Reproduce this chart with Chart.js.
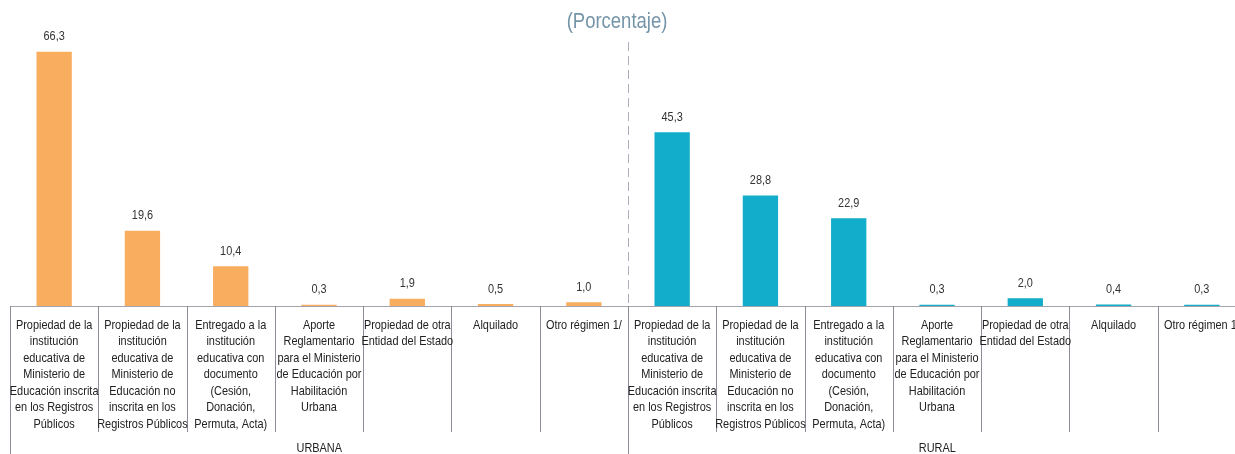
<!DOCTYPE html>
<html>
<head>
<meta charset="utf-8">
<script src="https://cdn.jsdelivr.net/npm/chart.js@4.4.1/dist/chart.umd.min.js"></script>
<style>
  html, body { margin: 0; padding: 0; background: #fff; overflow: hidden; }
  #wrap { position: relative; width: 1250px; height: 454px; }
</style>
</head>
<body>
<div id="wrap"><canvas id="chart"></canvas></div>
<script>
// Chart data
const categories = [
    ['Propiedad de la', 'institución', 'educativa de', 'Ministerio de', 'Educación inscrita', 'en los Registros', 'Públicos'],
    ['Propiedad de la', 'institución', 'educativa de', 'Ministerio de', 'Educación no', 'inscrita en los', 'Registros Públicos'],
    ['Entregado a la', 'institución', 'educativa con', 'documento', '(Cesión,', 'Donación,', 'Permuta, Acta)'],
    ['Aporte', 'Reglamentario', 'para el Ministerio', 'de Educación por', 'Habilitación', 'Urbana'],
    ['Propiedad de otra', 'Entidad del Estado'],
    ['Alquilado'],
    ['Otro régimen 1/']
];
const groups = ['URBANA', 'RURAL'];
const urbana = [66.3, 19.6, 10.4, 0.3, 1.9, 0.5, 1.0];
const rural = [45.3, 28.8, 22.9, 0.3, 2.0, 0.4, 0.3];

const ORANGE = '#f9ad5f';
const TEAL = '#12adca';
const FONT = "'Liberation Sans', Arial, sans-serif";
const NARROW = 0.84; // horizontal squeeze to mimic a narrow face

const labels = categories.concat(categories);
const values = urbana.concat(rural);
const colors = urbana.map(() => ORANGE).concat(rural.map(() => TEAL));

function narrowText(c, text, x, y, squeeze) {
    c.save();
    c.translate(x, y);
    c.scale(squeeze, 1);
    c.fillText(text, 0, 0);
    c.restore();
}

// Value labels above bars
const valueLabels = {
    id: 'valueLabels',
    afterDatasetsDraw(chart) {
        const c = chart.ctx;
        const meta = chart.getDatasetMeta(0);
        c.save();
        c.font = '13px ' + FONT;
        c.fillStyle = '#333';
        c.textAlign = 'center';
        c.textBaseline = 'middle';
        meta.data.forEach((bar, i) => {
            narrowText(c, values[i].toFixed(1).replace('.', ','), bar.x, bar.y - 15, NARROW);
        });
        c.restore();
    }
};

// Table-like axis: labels, separators, dashed divider, group names, subtitle
const axisTable = {
    id: 'axisTable',
    afterDraw(chart) {
        const c = chart.ctx;
        const x = chart.scales.x;
        const area = chart.chartArea;
        const n = labels.length;
        const step = (x.getPixelForValue(1) - x.getPixelForValue(0));
        c.save();
        // axis line
        c.strokeStyle = '#a3a3ad';
        c.lineWidth = 1;
        c.beginPath();
        c.moveTo(area.left, area.bottom + 0.5);
        c.lineTo(area.right, area.bottom + 0.5);
        c.stroke();
        // separators
        c.strokeStyle = '#8d8d9a';
        for (let i = 0; i <= n; i++) {
            const px = Math.round(x.getPixelForValue(i) - step / 2) + 0.5;
            const full = (i === 0 || i === urbana.length || i === n);
            c.beginPath();
            c.moveTo(px, area.bottom);
            c.lineTo(px, full ? 454 : 432);
            c.stroke();
        }
        // category labels
        c.font = '13px ' + FONT;
        c.fillStyle = '#222';
        c.textAlign = 'center';
        c.textBaseline = 'middle';
        labels.forEach((lines, i) => {
            const cx = x.getPixelForValue(i);
            lines.forEach((line, k) => {
                narrowText(c, line, cx, 325 + k * 16.5, NARROW);
            });
        });
        // dashed divider between groups
        const mid = Math.round(x.getPixelForValue(urbana.length) - step / 2) + 0.5;
        c.strokeStyle = '#aeaebd';
        c.setLineDash([9, 5]);
        c.beginPath();
        c.moveTo(mid, 42);
        c.lineTo(mid, area.bottom);
        c.stroke();
        c.setLineDash([]);
        // group names
        narrowText(c, groups[0], (area.left + mid) / 2, 448, NARROW);
        narrowText(c, groups[1], (mid + area.right) / 2, 448, NARROW);
        // subtitle
        c.font = '22px ' + FONT;
        c.fillStyle = '#7494a8';
        narrowText(c, '(Porcentaje)', 617, 22, 0.84);
        c.restore();
    }
};

const ctx = document.getElementById('chart').getContext('2d');
const chart = new Chart(ctx, {
    type: 'bar',
    data: {
        labels: labels,
        datasets: [{
            data: values,
            backgroundColor: colors,
            barPercentage: 0.4,
            categoryPercentage: 1.0
        }]
    },
    options: {
        responsive: true,
        maintainAspectRatio: false,
        animation: false,
        layout: { padding: { left: 10, right: 4, top: 30, bottom: 0 } },
        plugins: {
            legend: { display: false },
            tooltip: { enabled: false }
        },
        scales: {
            x: {
                grid: { display: false, drawTicks: false },
                border: { display: false },
                ticks: { display: false },
                afterFit(scale) { scale.height = 148; }
            },
            y: {
                display: false,
                min: 0,
                max: 72
            }
        }
    },
    plugins: [valueLabels, axisTable]
});
</script>
</body>
</html>
